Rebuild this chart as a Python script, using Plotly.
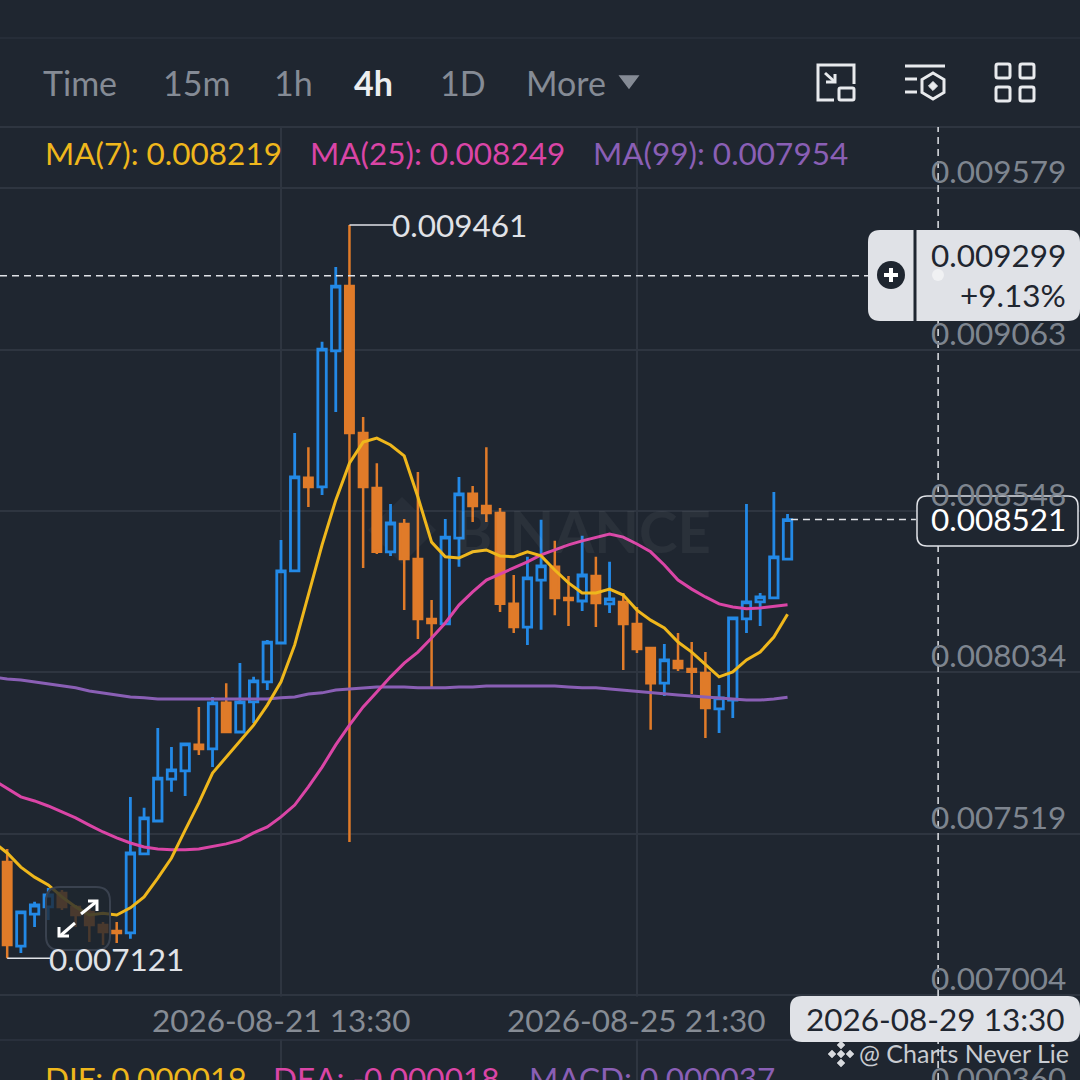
import numpy as np
import pandas as pd
import plotly.graph_objects as go

BG = "#1f2630"
GRID = "#2e3540"
BLUE = "#2389e6"
ORANGE = "#e07b29"
YELLOW = "#efb71c"
PINK = "#da45a6"
PURPLE = "#8a5fb5"
GRAY = "#7e858f"
MENU_GRAY = "#858b95"
LIGHT = "#e0e2e7"
DARK = "#1f2630"
FONT = "Lato"
SIZE = 31.5
DASH = "7px,5px"

# 4h candles, prices in millionths
candle_times = pd.date_range("2026-08-18 05:30", periods=58, freq="4h")
candle_open = [7428, 7160, 7262, 7285, 7329, 7285, 7269, 7227, 7208, 7202, 7454, 7559, 7693, 7719, 7802, 7789, 7936, 7843, 7939, 8003, 8127, 8357, 8654, 8625, 9059, 9266, 8797, 8622, 8418, 8507, 8395, 8204, 8188, 8462, 8603, 8564, 8542, 8252, 8178, 8328, 8370, 8271, 8261, 8341, 8252, 8258, 8188, 8111, 7999, 8070, 8044, 8031, 7917, 7945, 8204, 8258, 8271, 8395]
candle_high = [7470, 7269, 7301, 7345, 7339, 7291, 7291, 7237, 7237, 7636, 7601, 7856, 7795, 7805, 7923, 7955, 7999, 8063, 8019, 8137, 8456, 8797, 8752, 9088, 9327, 9461, 8848, 8701, 8571, 8523, 8673, 8264, 8523, 8657, 8628, 8752, 8558, 8344, 8402, 8520, 8453, 8341, 8469, 8402, 8386, 8287, 8242, 8114, 8124, 8159, 8130, 8098, 7993, 8207, 8571, 8287, 8609, 8539]
candle_low = [7121, 7138, 7221, 7243, 7275, 7221, 7173, 7163, 7170, 7183, 7454, 7559, 7652, 7639, 7770, 7731, 7843, 7843, 7872, 7977, 8127, 8357, 8561, 8599, 8864, 7492, 8366, 8411, 8405, 8232, 8140, 7984, 8188, 8370, 8513, 8513, 8226, 8159, 8121, 8169, 8216, 8181, 8229, 8178, 8223, 8041, 8095, 7850, 7958, 8038, 7964, 7824, 7840, 7888, 8159, 8181, 8268, 8395]
candle_close = [7163, 7269, 7291, 7323, 7285, 7259, 7227, 7205, 7202, 7457, 7569, 7696, 7722, 7805, 7789, 7936, 7843, 7939, 8006, 8130, 8357, 8657, 8625, 9065, 9266, 8797, 8625, 8418, 8510, 8395, 8204, 8191, 8465, 8603, 8564, 8542, 8252, 8178, 8335, 8373, 8271, 8264, 8344, 8255, 8268, 8188, 8108, 7999, 8073, 8047, 8035, 7920, 7952, 8207, 8258, 8274, 8402, 8521]

# moving averages start one candle before the first visible candle
ma_times = pd.date_range("2026-08-18 01:30", periods=59, freq="4h")
ma7 = [7492, 7457, 7412, 7380, 7355, 7317, 7285, 7259, 7265, 7259, 7282, 7317, 7377, 7441, 7530, 7617, 7712, 7763, 7811, 7865, 7929, 8003, 8121, 8280, 8440, 8583, 8701, 8768, 8781, 8759, 8724, 8593, 8449, 8402, 8398, 8418, 8424, 8405, 8402, 8418, 8405, 8360, 8319, 8287, 8287, 8299, 8280, 8232, 8200, 8175, 8130, 8098, 8057, 8019, 8035, 8073, 8098, 8146, 8219]
ma25 = [7690, 7664, 7636, 7623, 7607, 7588, 7569, 7546, 7524, 7505, 7489, 7476, 7470, 7467, 7467, 7470, 7479, 7486, 7498, 7521, 7540, 7572, 7610, 7668, 7731, 7802, 7865, 7923, 7971, 8019, 8063, 8098, 8143, 8191, 8248, 8290, 8328, 8347, 8366, 8386, 8408, 8424, 8440, 8453, 8465, 8475, 8465, 8443, 8418, 8376, 8328, 8299, 8274, 8252, 8242, 8236, 8239, 8245, 8249]
ma99 = [8019, 8012, 8009, 8003, 7996, 7990, 7984, 7974, 7968, 7961, 7955, 7952, 7948, 7948, 7948, 7948, 7948, 7948, 7948, 7948, 7948, 7952, 7955, 7964, 7968, 7977, 7980, 7984, 7987, 7987, 7987, 7984, 7984, 7984, 7987, 7987, 7990, 7990, 7990, 7990, 7990, 7990, 7987, 7984, 7984, 7980, 7977, 7971, 7968, 7964, 7961, 7958, 7955, 7952, 7948, 7945, 7945, 7948, 7954]

price_ticks = [0.009579, 0.009063, 0.008548, 0.008034, 0.007519, 0.007004]
price_labels = ["0.009579", "0.009063", "0.008548", "0.008034", "0.007519", "0.007004"]
date_ticks = ["2026-08-21 13:30", "2026-08-25 21:30"]
menu_items = ["Time", "15m", "1h", "4h", "1D", "More"]
ma_legend = ["MA(7): 0.008219", "MA(25): 0.008249", "MA(99): 0.007954"]
macd_legend = ["DIF: 0.000019", "DEA: -0.000018", "MACD: 0.000037"]
high_label, low_label = "0.009461", "0.007121"
cross_price, cross_change, cross_time = 0.009299, "+9.13%", "2026-08-29 13:30"
last_price = 0.008521


def px(x):
    return x / 1080


def py(y):
    return 1 - y / 1080


def path(points, close=False):
    d = "M" + " L".join(f"{px(x):.5f},{py(y):.5f}" for x, y in points)
    return d + " Z" if close else d


def rrect(x0, y0, x1, y1, r):
    # rounded box, corners as quadratic curves
    p = lambda x, y: f"{px(x):.5f},{py(y):.5f}"
    return (f"M{p(x0 + r, y0)} L{p(x1 - r, y0)} Q{p(x1, y0)} {p(x1, y0 + r)} L{p(x1, y1 - r)} "
            f"Q{p(x1, y1)} {p(x1 - r, y1)} L{p(x0 + r, y1)} Q{p(x0, y1)} {p(x0, y1 - r)} "
            f"L{p(x0, y0 + r)} Q{p(x0, y0)} {p(x0 + r, y0)} Z")


shapes = []
annotations = []


def stroke(d, color="#e8eaed", width=3, fill=None, layer="above"):
    s = dict(type="path", path=d, xref="paper", yref="paper", layer=layer, line=dict(color=color, width=width))
    if fill:
        s["fillcolor"] = fill
    shapes.append(s)


def text(x, y, t, color, size=SIZE, anchor="left", bold=False):
    # annotation boxes carry about 3px of padding
    shift = {"left": -3, "right": 3, "center": 0}[anchor]
    a = dict(x=px(x + shift), y=py(y - 1), xref="paper", yref="paper", text=f"<b>{t}</b>" if bold else t, showarrow=False,
             xanchor=anchor, yanchor="middle", font=dict(family=FONT, size=size, color=color))
    annotations.append(a)


fig = go.Figure()
fig.add_trace(go.Candlestick(
    x=candle_times,
    open=np.array(candle_open) / 1e6, high=np.array(candle_high) / 1e6,
    low=np.array(candle_low) / 1e6, close=np.array(candle_close) / 1e6,
    increasing=dict(line=dict(color=BLUE, width=2.8), fillcolor="rgba(0,0,0,0)"),
    decreasing=dict(line=dict(color=ORANGE, width=2.5), fillcolor=ORANGE),
    whiskerwidth=0, showlegend=False, hoverinfo="skip",
))
for values, color in [(ma99, PURPLE), (ma25, PINK), (ma7, YELLOW)]:
    fig.add_trace(go.Scatter(x=ma_times, y=np.array(values) / 1e6, mode="lines", showlegend=False,
                             line=dict(color=color, width=3), hoverinfo="skip"))

# header rows
shapes.append(dict(type="line", xref="paper", yref="paper", x0=0, x1=1, y0=py(38), y1=py(38), layer="below", line=dict(color=GRID, width=1)))
shapes.append(dict(type="line", xref="paper", yref="paper", x0=0, x1=1, y0=py(127), y1=py(127), layer="below", line=dict(color=GRID, width=2)))
# the date row has no vertical grid
stroke(path([(0, 996.5), (1080, 996.5), (1080, 1039.5), (0, 1039.5)], close=True), BG, 0, BG)
shapes.append(dict(type="line", xref="paper", yref="paper", x0=0, x1=1, y0=py(1040), y1=py(1040), line=dict(color=GRID, width=1.5)))

for label, x in zip(menu_items, [44, 164, 275, 355, 441, 527]):
    if label == "4h":
        text(x, 84, label, "#eceef0", 34, bold=True)
    else:
        text(x, 84, label, MENU_GRAY, 34)
stroke(path([(620, 76), (638, 76), (629, 88)], close=True), MENU_GRAY, 1.5, MENU_GRAY)

# top right icons
stroke(path([(854, 84), (854, 65), (818, 65), (818, 100), (834, 100)]))
stroke(rrect(839, 88, 854, 100, 1.5))
stroke(path([(825, 73), (835, 82)]))
stroke(path([(835, 74), (835, 82), (826, 82)]))
stroke(path([(905, 66), (945, 66)]))
stroke(path([(905, 79), (917, 79)]))
stroke(path([(905, 92), (917, 92)]))
stroke(path([(933, 73), (944, 79.5), (944, 92.5), (933, 99), (922, 92.5), (922, 79.5)], close=True))
stroke(path([(933, 81.5), (937.5, 86), (933, 90.5), (928.5, 86)], close=True), "#e8eaed", 1, "#e8eaed")
for x0, y0 in [(996, 64), (1020, 64), (996, 87), (1020, 87)]:
    stroke(rrect(x0, y0, x0 + 14, y0 + 14, 2))

for label, x, color in zip(ma_legend, [46, 311, 594], [YELLOW, PINK, PURPLE]):
    text(x, 154, label, color)
for label, x, color in zip(macd_legend, [46, 274, 530], [YELLOW, PINK, PURPLE]):
    text(x, 1079, label, color)
text(1065, 1079, "0.000360", GRAY, anchor="right")

# watermark
stroke(path([(402, 497), (436, 530), (402, 564), (368, 530)], close=True), "rgba(0,0,0,0)", 0, "rgba(255,255,255,0.04)", layer="below")
text(455, 531, "BINANCE", "rgba(255,255,255,0.05)", 58, bold=True)

# price scale labels sit just above their grid lines
for price, label in zip(price_ticks, price_labels):
    annotations.append(dict(x=px(1068), y=price, xref="paper", yref="y", text=label, showarrow=False, xanchor="right",
                            yanchor="bottom", yshift=-4, font=dict(family=FONT, size=SIZE, color=GRAY)))
for date in date_ticks:
    annotations.append(dict(x=date, y=py(1020), xref="x", yref="paper", text=date, showarrow=False, yanchor="middle",
                            font=dict(family=FONT, size=SIZE, color="#868c95")))

# high / low markers
shapes.append(dict(type="line", xref="x", yref="y", x0="2026-08-22 09:30", x1="2026-08-22 22:20", y0=0.009461, y1=0.009461, line=dict(color=LIGHT, width=1.5)))
shapes.append(dict(type="line", xref="x", yref="y", x0="2026-08-18 05:30", x1="2026-08-18 18:00", y0=0.007121, y1=0.007121, line=dict(color=LIGHT, width=1.5)))
text(393, 226, high_label, LIGHT)
text(50, 960, low_label, LIGHT)

# crosshair
shapes.append(dict(type="line", xref="x", yref="paper", x0=cross_time, x1=cross_time, y0=py(1080), y1=py(127), line=dict(color=LIGHT, width=1.5, dash=DASH)))
shapes.append(dict(type="line", xref="paper", yref="y", x0=0, x1=px(868), y0=cross_price, y1=cross_price, line=dict(color=LIGHT, width=1.5, dash=DASH)))
# last price line
shapes.append(dict(type="line", xref="x", yref="y", x0="2026-08-27 18:30", x1="2026-08-29 07:00", y0=last_price, y1=last_price, line=dict(color=LIGHT, width=1.5, dash=DASH)))

# price tooltip
stroke(rrect(868, 230, 1080, 321, 12), LIGHT, 0, LIGHT)
stroke(path([(915, 230), (915, 321)]), DARK, 3)
shapes.append(dict(type="circle", xref="paper", yref="paper", x0=px(877), x1=px(905), y0=py(289), y1=py(261), fillcolor=DARK, line=dict(width=0)))
stroke(path([(891, 268), (891, 282)]), "white", 4)
stroke(path([(884, 275), (898, 275)]), "white", 4)
shapes.append(dict(type="circle", xref="paper", yref="paper", x0=px(932), x1=px(944), y0=py(281), y1=py(269), fillcolor="rgba(255,255,255,0.5)", line=dict(width=0)))
text(1065, 256, "0.009299", DARK, anchor="right")
text(1065, 296, cross_change, DARK, anchor="right")

# last price box
stroke(rrect(917, 496, 1078, 546, 10), LIGHT, 1.5, BG)
text(1065, 520, "0.008521", "white", anchor="right")

# time tooltip
stroke(rrect(790, 996, 1080, 1042, 12), LIGHT, 0, LIGHT)
text(935, 1020, cross_time, DARK, anchor="center")

# expand button over the chart
stroke(rrect(46, 887, 110, 950, 14), "#3a424f", 2, "rgba(31,38,48,0.78)")
stroke(path([(81, 914), (96, 902)]), "white", 3)
stroke(path([(88, 901), (97, 901), (97, 911)]), "white", 3)
stroke(path([(75, 923), (60, 936)]), "white", 3)
stroke(path([(59, 927), (59, 936), (69, 936)]), "white", 3)

# attribution
for dx, dy in [(0, 0), (0, -9), (0, 9), (-9, 0), (9, 0)]:
    cx, cy = 841 + dx, 1054 + dy
    stroke(path([(cx, cy - 4), (cx + 4, cy), (cx, cy + 4), (cx - 4, cy)], close=True), "#d8dade", 0.5, "#d8dade")
text(860, 1054, "@ Charts Never Lie", "#c9ccd1", 25)

fig.update_layout(
    width=1080, height=1080,
    margin=dict(l=0, r=0, t=0, b=0),
    paper_bgcolor=BG, plot_bgcolor=BG,
    showlegend=False,
    boxgap=0.12,
    shapes=shapes, annotations=annotations,
    xaxis=dict(type="date", range=["2026-08-18 03:24", "2026-08-31 06:57"], rangeslider=dict(visible=False),
               tickvals=date_ticks, showticklabels=False, showgrid=True, gridcolor=GRID, gridwidth=1.5, zeroline=False),
    yaxis=dict(domain=[0, py(127)], range=[0.0067326, 0.0097736], tickvals=price_ticks, showticklabels=False,
               showgrid=True, gridcolor=GRID, gridwidth=1.5, zeroline=False),
)

fig.write_html("out.html", config={"displayModeBar": False},
               post_script="document.body.style.margin='0';document.body.style.background='" + BG + "';")
